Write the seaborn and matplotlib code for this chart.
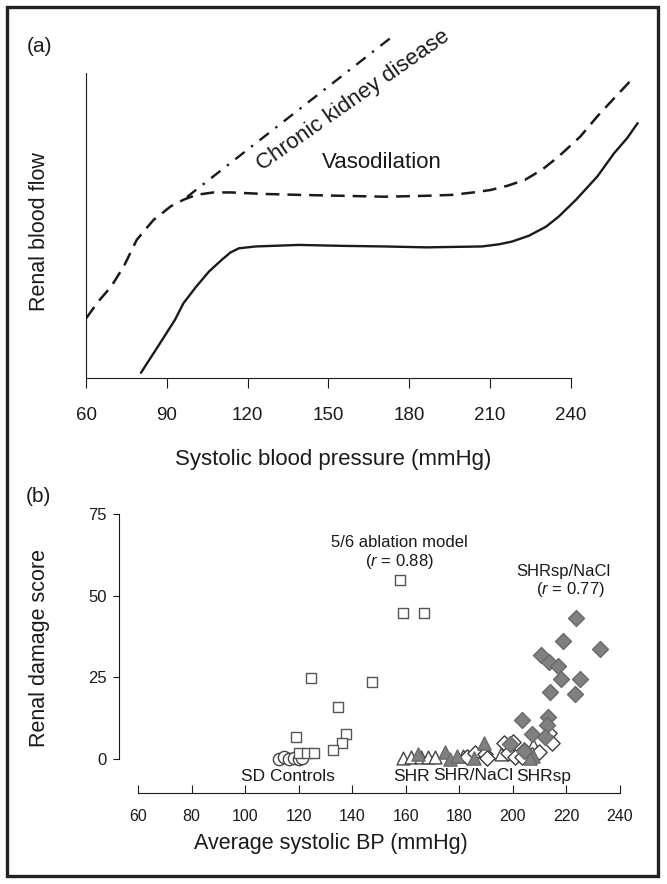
import numpy as np
import seaborn as sns
import matplotlib.pyplot as plt
from matplotlib.patches import Rectangle

# ---------------- data: panel (a) autoregulation curves ----------------
normal_x = [80.4, 86.7, 93.0, 96.2, 100.9, 105.7, 110.4, 113.6, 116.8, 123.1, 139.0, 154.8,
            170.7, 186.5, 207.1, 213.4, 218.2, 224.5, 230.9, 235.6, 242.0, 249.9, 256.2, 261.0, 264.9]
normal_y = [1.7, 10.3, 19.0, 24.5, 29.9, 34.9, 38.7, 41.1, 42.5, 43.1, 43.6, 43.3,
            43.1, 42.8, 43.1, 43.8, 44.7, 46.6, 49.6, 52.9, 58.4, 66.0, 73.7, 78.6, 83.5]

vaso_x = [60.1, 64.5, 69.3, 74.0, 78.8, 81.9, 85.1, 88.3, 91.4, 96.2, 100.9, 107.3, 113.6, 126.3,
          139.0, 154.8, 170.7, 186.5, 196.0, 203.9, 210.3, 216.6, 223.0, 229.3, 235.6, 243.6,
          249.9, 256.2, 262.6]
vaso_y = [19.6, 25.0, 29.9, 36.5, 45.2, 48.5, 51.8, 54.0, 56.2, 58.4, 60.0, 60.8, 60.8, 60.3,
          60.0, 59.7, 59.4, 59.7, 60.0, 60.8, 61.6, 63.0, 64.9, 68.2, 72.6, 79.1,
          85.7, 91.7, 97.7]

ckd_x = [97.5, 174.7]
ckd_y = [59.3, 112.5]

top_ticks = [60, 90, 120, 150, 180, 210, 240]

# ---------------- data: panel (b) renal damage vs BP ----------------
sd_x = [112.6, 114.5, 116.4, 118.3, 120.1, 121.4]
sd_y = [0.0, 0.7, 0.0, 0.2, 0.0, 0.3]

ablation_x = [158.0, 158.8, 166.7, 124.6, 147.2, 134.7, 118.9, 137.8, 136.3, 132.9, 120.2, 123.1, 125.7]
ablation_y = [54.9, 44.8, 44.8, 24.8, 23.6, 15.8, 6.8, 7.8, 4.9, 2.9, 1.8, 1.8, 1.8]

shr_x = [158.9, 162.1, 165.8, 168.3, 170.8, 181.4, 195.6, 207.6]
shr_y = [0.2, 0.6, 0.5, 0.5, 0.7, 0.9, 1.6, 4.2]

shr_nacl_x = [164.7, 174.7, 176.4, 179.3, 185.5, 189.3, 207.5, 206.3]
shr_nacl_y = [1.5, 2.0, 0.0, 1.0, 0.3, 5.0, 0.8, 0.3]

shrsp_x = [182.7, 185.8, 189.6, 190.5, 196.5, 198.3, 200.2, 200.6, 203.3, 204.2, 207.1, 209.6, 213.5, 214.6]
shrsp_y = [0.7, 1.7, 1.4, 0.4, 4.8, 1.9, 5.3, 0.7, 0.5, 2.8, 1.2, 2.2, 7.9, 5.0]

shrsp_nacl_x = [223.5, 218.7, 232.6, 210.4, 213.4, 216.7, 217.8, 225.2, 213.8, 223.2, 203.3, 213.0,
                212.8, 207.3, 212.0, 199.0, 204.1]
shrsp_nacl_y = [43.0, 36.1, 33.6, 31.8, 29.8, 28.3, 24.5, 24.4, 20.6, 19.8, 12.0, 12.7,
                10.5, 7.7, 6.7, 4.7, 2.6]

bottom_xticks = [60, 80, 100, 120, 140, 160, 180, 200, 220, 240]
bottom_yticks = [0, 25, 50, 75]

# ---------------- style ----------------
sns.set_style('ticks')
plt.rcParams['font.family'] = ['Liberation Sans', 'DejaVu Sans']
plt.rcParams['mathtext.fontset'] = 'custom'
plt.rcParams['mathtext.rm'] = 'Liberation Sans'
plt.rcParams['mathtext.it'] = 'Liberation Sans:italic'
plt.rcParams['axes.linewidth'] = 0.8
ink = '#1a1a1a'

W, H = 667, 884


def px_rect(l, t, r, b):
    return [l / W, 1 - b / H, (r - l) / W, (b - t) / H]


def fig_xy(x, y):
    return x / W, 1 - y / H


fig = plt.figure(figsize=(W / 100, H / 100), dpi=100)

# ---------------- panel (a) ----------------
ax1 = fig.add_axes(px_rect(86, 27, 646, 378))
sns.lineplot(x=normal_x, y=normal_y, ax=ax1, color=ink, linewidth=1.7, errorbar=None)
sns.lineplot(x=vaso_x, y=vaso_y, ax=ax1, color=ink, linewidth=1.8, errorbar=None,
             linestyle=(0, (5.5, 3.2)))
sns.lineplot(x=ckd_x, y=ckd_y, ax=ax1, color=ink, linewidth=1.7, errorbar=None,
             linestyle=(0, (5, 3.5, 1, 3.5)))
ax1.set_xlim(60, 268)
ax1.set_ylim(0, 115)
ax1.set_yticks([])
ax1.set_xticks(top_ticks)
ax1.set_xticklabels([str(t) for t in top_ticks])
ax1.tick_params(axis='x', direction='out', length=7, width=0.8, pad=14, labelsize=13.5, colors=ink)
sns.despine(ax=ax1)
ax1.spines['left'].set_bounds(0, 100)
ax1.spines['bottom'].set_bounds(60, 240)
for s in ('left', 'bottom'):
    ax1.spines[s].set_color(ink)

ax1.text(169.9, 70.5, 'Vasodilation', ha='center', va='center', fontsize=16, color=ink)
ax1.text(159.1, 91.1, 'Chronic kidney disease', ha='center', va='center', fontsize=16,
         rotation=35, rotation_mode='anchor', color=ink)

fig.text(*fig_xy(39, 47), '(a)', ha='center', va='center', fontsize=15, color=ink)
fig.text(*fig_xy(40, 232), 'Renal blood flow', ha='center', va='center', rotation=90,
         fontsize=15.5, color=ink)
fig.text(*fig_xy(333, 459), 'Systolic blood pressure (mmHg)', ha='center', va='center',
         fontsize=16, color=ink)

# ---------------- panel (b) ----------------
ax2 = fig.add_axes(px_rect(119, 504, 625.4, 793))
ms = dict(ax=ax2, legend=False, linewidth=1.0)
sns.scatterplot(x=sd_x, y=sd_y, marker='o', s=78, color='white', edgecolor='#444444', **ms)
sns.scatterplot(x=ablation_x, y=ablation_y, marker='s', s=58, color='white', edgecolor='#555555', **ms)
sns.scatterplot(x=shr_x, y=shr_y, marker='^', s=85, color='white', edgecolor='#444444', **ms)
sns.scatterplot(x=shrsp_x, y=shrsp_y, marker='D', s=60, color='white', edgecolor='#3a3a3a', **ms)
sns.scatterplot(x=shr_nacl_x, y=shr_nacl_y, marker='^', s=90, color='#808080', edgecolor='#6a6a6a', **ms)
sns.scatterplot(x=shrsp_nacl_x, y=shrsp_nacl_y, marker='D', s=66, color='#808080', edgecolor='#6a6a6a', **ms)

ax2.set_xlim(52.9, 242)
ax2.set_ylim(-10.4, 78)
ax2.set_xticks(bottom_xticks)
ax2.set_yticks(bottom_yticks)
ax2.tick_params(axis='x', direction='in', length=6, width=0.8, pad=11.5, labelsize=11.5, colors=ink)
ax2.tick_params(axis='y', direction='out', length=4, width=0.8, pad=5, labelsize=12, colors=ink)
sns.despine(ax=ax2)
ax2.spines['left'].set_bounds(0, 75)
ax2.spines['bottom'].set_bounds(60, 240)
for s in ('left', 'bottom'):
    ax2.spines[s].set_color(ink)

note = dict(ha='center', va='center', fontsize=12, color=ink)
ax2.text(157.5, 66.1, '5/6 ablation model', **note)
ax2.text(157.5, 60.3, '($r$ = 0.88)', **note)
ax2.text(218.7, 57.5, 'SHRsp/NaCl', **note)
ax2.text(221.3, 51.7, '($r$ = 0.77)', **note)
grp = dict(ha='center', va='center', fontsize=12.5, color=ink)
ax2.text(116.0, -5.5, 'SD Controls', **grp)
ax2.text(162.3, -5.5, 'SHR', **grp)
ax2.text(185.1, -5.2, 'SHR/NaCl', **grp)
ax2.text(211.6, -5.2, 'SHRsp', **grp)

fig.text(*fig_xy(38, 497), '(b)', ha='center', va='center', fontsize=15, color=ink)
fig.text(*fig_xy(40, 648), 'Renal damage score', ha='center', va='center', rotation=90,
         fontsize=15.5, color=ink)
fig.text(*fig_xy(331, 843), 'Average systolic BP (mmHg)', ha='center', va='center',
         fontsize=15.5, color=ink)

# outer frame
fig.add_artist(Rectangle((7 / W, 1 - 876 / H), 651 / W, 869 / H, transform=fig.transFigure,
                         fill=False, linewidth=2.4, edgecolor='#222222'))

fig.savefig('out.png', dpi=100)
